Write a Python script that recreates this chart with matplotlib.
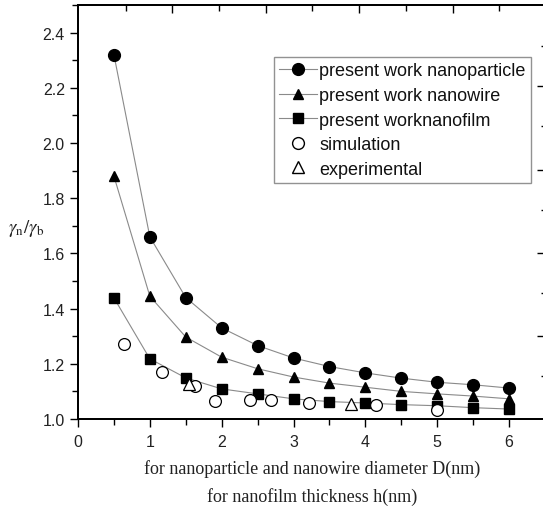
import numpy as np
import matplotlib
matplotlib.use("Agg")
import matplotlib.pyplot as plt
from matplotlib.lines import Line2D
from matplotlib.ticker import MultipleLocator

# данные
d_model = [0.5, 1.0, 1.5, 2.0, 2.5, 3.0, 3.5, 4.0, 4.5, 5.0, 5.5, 6.0]
g_particle = [2.32, 1.66, 1.44, 1.33, 1.266, 1.221, 1.19, 1.167, 1.148, 1.133, 1.124, 1.112]
g_wire = [1.88, 1.445, 1.297, 1.224, 1.182, 1.152, 1.13, 1.115, 1.10, 1.091, 1.083, 1.073]
g_film = [1.439, 1.218, 1.149, 1.109, 1.091, 1.073, 1.063, 1.058, 1.052, 1.048, 1.041, 1.036]

d_sim = [0.64, 1.165, 1.63, 1.91, 2.40, 2.69, 3.22, 4.15, 4.99]
g_sim = [1.270, 1.170, 1.118, 1.064, 1.068, 1.067, 1.058, 1.051, 1.034]

d_exp = [1.54, 3.80]
g_exp = [1.127, 1.055]

# "чужие" засечки сверху и справа (вклеенная рамка)
top_major = [1.313, 2.613, 3.913, 5.213]
top_minor = [0.664, 1.964, 3.264, 4.564, 5.864]
right_major = [2.207, 1.902, 1.600, 1.302]
right_minor = [2.353, 2.060, 1.756, 1.455, 1.156]

plt.rcParams["font.family"] = ["Liberation Sans", "DejaVu Sans"]
plt.rcParams["mathtext.fontset"] = "stix"

fig = plt.figure(figsize=(5.43, 5.10), dpi=100)
ax = fig.add_axes([0.1436, 0.1765, 0.8601, 0.8118])

line_kw = dict(color="#8a8a8a", lw=0.8, zorder=1)
ax.plot(d_model, g_particle, **line_kw)
ax.plot(d_model, g_wire, **line_kw)
ax.plot(d_model, g_film, **line_kw)
ax.plot(d_model, g_particle, "o", color="black", ms=8.5, zorder=3)
ax.plot(d_model, g_wire, "^", color="black", ms=7.5, zorder=3)
ax.plot(d_model, g_film, "s", color="black", ms=7, zorder=3)
ax.plot(d_sim, g_sim, "o", mfc="white", mec="black", mew=0.9, ms=8.5, zorder=4)
ax.plot(d_exp, g_exp, "^", mfc="white", mec="black", mew=0.9, ms=9, zorder=4)

ax.set_xlim(0, 6.5)
ax.set_ylim(1.0, 2.5)
ax.xaxis.set_major_locator(MultipleLocator(1))
ax.xaxis.set_minor_locator(MultipleLocator(0.5))
ax.yaxis.set_major_locator(MultipleLocator(0.2))
ax.yaxis.set_minor_locator(MultipleLocator(0.1))
ax.set_xticks([0, 1, 2, 3, 4, 5, 6])
ax.tick_params(which="major", direction="out", length=6, width=1, labelsize=11.5,
               labelcolor="#222222")
ax.tick_params(which="minor", direction="out", length=4, width=1)
ax.tick_params(axis="x", pad=5)
for s in ax.spines.values():
    s.set_linewidth(1.2)

# верхняя и правая засечки
axt = ax.twiny()
axt.set_xlim(ax.get_xlim())
axt.set_xticks(top_major)
axt.set_xticks(top_minor, minor=True)
axt.tick_params(axis="x", which="major", direction="in", length=6, width=1, labeltop=False)
axt.tick_params(axis="x", which="minor", direction="in", length=4, width=1)

axr = ax.twinx()
axr.set_ylim(ax.get_ylim())
axr.set_yticks(right_major)
axr.set_yticks(right_minor, minor=True)
axr.tick_params(axis="y", which="major", direction="in", length=6, width=1, labelright=False)
axr.tick_params(axis="y", which="minor", direction="in", length=3, width=1)
for a in (axt, axr):
    for s in a.spines.values():
        s.set_linewidth(1.2)

fig.text(0.048, 0.551, r"$\gamma_{\rm n}/\gamma_{\rm b}$", fontsize=13.5, ha="center", va="center",
         color="#222222")
fig.text(0.574, 0.053, "for nanoparticle and nanowire diameter D(nm)\nfor nanofilm thickness h(nm)",
         family=["Liberation Serif", "DejaVu Serif"], fontsize=13, ha="center", va="center",
         linespacing=1.75, color="#222222")

handles = [
    Line2D([], [], color="#8a8a8a", lw=0.8, marker="o", mfc="black", mec="black", ms=8.5),
    Line2D([], [], color="#8a8a8a", lw=0.8, marker="^", mfc="black", mec="black", ms=6.5),
    Line2D([], [], color="#8a8a8a", lw=0.8, marker="s", mfc="black", mec="black", ms=7),
    Line2D([], [], ls="none", marker="o", mfc="white", mec="black", ms=8.5),
    Line2D([], [], ls="none", marker="^", mfc="white", mec="black", ms=9),
]
labels = ["present work nanoparticle", "present work nanowire", "present worknanofilm",
          "simulation", "experimental"]
leg = fig.legend(handles, labels, loc="upper left", bbox_to_anchor=(0.5046, 0.8863),
                 borderaxespad=0, fontsize=13, frameon=True, fancybox=False,
                 handlelength=2.1, handletextpad=0.1, labelspacing=0.42,
                 borderpad=0.3, labelcolor="#111111")
leg.get_frame().set_edgecolor("#777777")
leg.get_frame().set_linewidth(1.0)

fig.savefig("out.png", dpi=100)
